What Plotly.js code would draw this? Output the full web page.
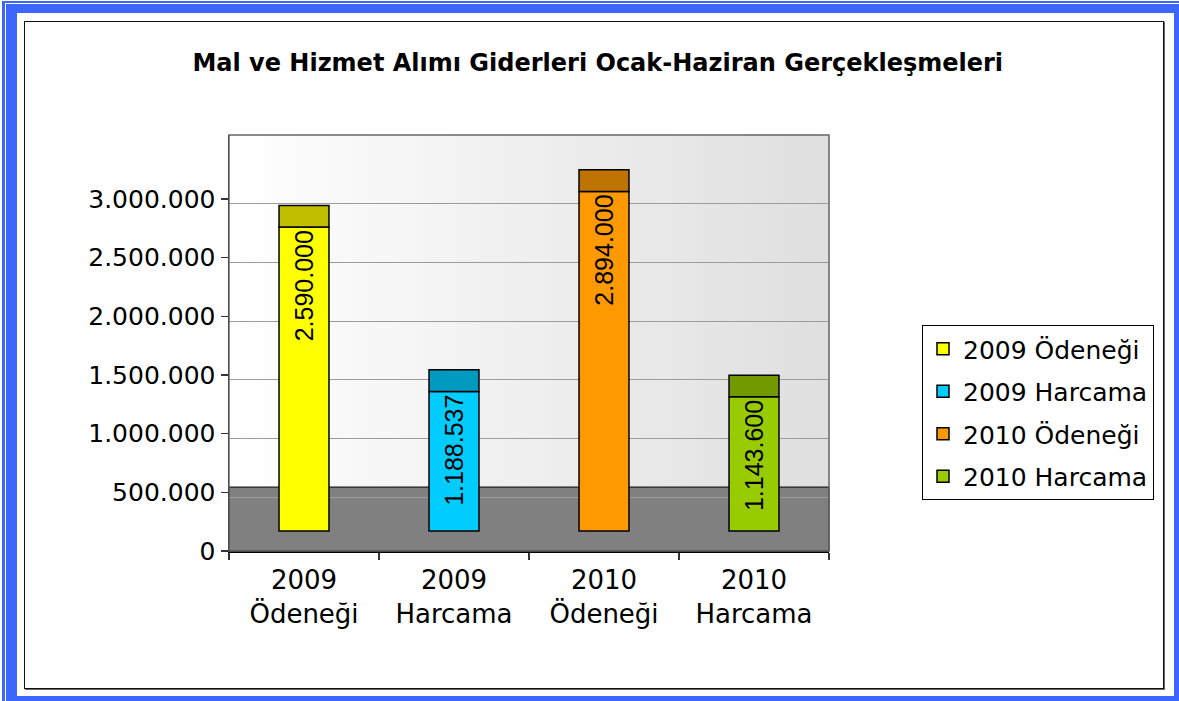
<!DOCTYPE html>
<html>
<head>
<meta charset="utf-8">
<script src="https://cdn.plot.ly/plotly-3.0.1.min.js"></script>
<style>
  html, body { margin:0; padding:0; width:1179px; height:701px; overflow:hidden; background:#fff; }
  .abs { position:absolute; box-sizing:border-box; }
</style>
</head>
<body>
<div class="abs" style="left:2px;top:1px;width:1177px;height:700px;background:#3d66ff;"></div>
<div class="abs" style="left:5px;top:3px;width:1200px;height:720px;border:1.5px solid #fff;"></div>
<div class="abs" style="left:17px;top:13px;width:1157px;height:683px;background:#fff;"></div>
<div class="abs" style="left:24px;top:21px;width:1140px;height:668px;border:1.5px solid #111;box-shadow:1px 1px 0 #666;"></div>
<div id="chart" class="abs" style="left:0;top:0;width:1179px;height:701px;"></div>
<script>
// ---- data ----
const categories = ["2009<br>Ödeneği", "2009<br>Harcama", "2010<br>Ödeneği", "2010<br>Harcama"];
const seriesNames = ["2009 Ödeneği", "2009 Harcama", "2010 Ödeneği", "2010 Harcama"];
const values = [2590000, 1188537, 2894000, 1143600];
const yTickVals = [0, 500000, 1000000, 1500000, 2000000, 2500000, 3000000];
const frontColors = ["#ffff00", "#00ccff", "#ff9900", "#99cc00"];
const topColors = ["#bfbf00", "#0099bf", "#bf7300", "#739900"];

// 3D-look styling constants (in axis units)
const BASE_OFFSET = 170000;   // front face starts above the floor
const TOP_DEPTH = 185000;     // height of visible top face

const FONT = "DejaVu Sans, Liberation Sans, Arial, sans-serif";
const LABEL_FONT = "Liberation Sans, Arial, sans-serif";

const traces = [];
for (let i = 0; i < values.length; i++) {
  traces.push({
    type: "bar",
    name: seriesNames[i],
    legendgroup: "g" + i,
    x: [categories[i]],
    y: [values[i]],
    base: [BASE_OFFSET],
    width: 0.333,
    marker: { color: frontColors[i], line: { color: "#000", width: 1.5 } },
    texttemplate: "%{y:,.0f}",
    textposition: "inside",
    insidetextanchor: "end",
    textangle: -90,
    insidetextfont: { family: LABEL_FONT, size: 25, color: "#000" },
    hoverinfo: "skip"
  });
}
for (let i = 0; i < values.length; i++) {
  traces.push({
    type: "bar",
    showlegend: false,
    x: [categories[i]],
    y: [TOP_DEPTH],
    base: [values[i] + BASE_OFFSET],
    width: 0.333,
    marker: { color: topColors[i], line: { color: "#000", width: 1.5 } },
    hoverinfo: "skip"
  });
}
// dummy trace to create back-wall grid axis
traces.push({ type: "scatter", x: [categories[0]], y: [null], yaxis: "y2", showlegend: false, hoverinfo: "skip" });

const layout = {
  width: 1179, height: 701,
  margin: { l: 229, r: 350, t: 135, b: 150, pad: 0 },
  paper_bgcolor: "rgba(0,0,0,0)",
  plot_bgcolor: "#ffffff",
  separators: ",.",
  barmode: "overlay",
  font: { family: FONT, color: "#000" },
  title: {
    text: "<b>Mal ve Hizmet Alımı Giderleri Ocak-Haziran Gerçekleşmeleri</b>",
    font: { family: FONT, size: 24, color: "#000" },
    x: 0.507, xanchor: "center", y: 0.911, yanchor: "middle"
  },
  xaxis: {
    type: "category", range: [-0.5, 3.5],
    tickson: "boundaries", ticks: "outside", ticklen: 7, tickwidth: 1.5, tickcolor: "#333",
    showline: true, linecolor: "#000", linewidth: 1.5,
    ticklabelstandoff: 5,
    showgrid: false, tickfont: { family: FONT, size: 26, color: "#000" }
  },
  yaxis: {
    range: [0, 3545000], tickvals: yTickVals, tickformat: ",d",
    ticks: "outside", ticklen: 7, tickwidth: 1.5, tickcolor: "#333",
    showline: true, linecolor: "#000", linewidth: 1.5,
    showgrid: false, zeroline: false,
    tickfont: { family: FONT, size: 25, color: "#000" }
  },
  yaxis2: {
    overlaying: "y", anchor: "x", range: [42600, 3587600], tickvals: yTickVals,
    showgrid: true, gridcolor: "#9c9c9c", gridwidth: 1,
    showticklabels: false, ticks: "", showline: false, zeroline: false
  },
  legend: {
    x: 1.155, xanchor: "left", y: 0.543, yanchor: "top",
    bordercolor: "#000", borderwidth: 1, bgcolor: "#fff",
    font: { family: FONT, size: 25, color: "#000" },
    traceorder: "grouped", tracegroupgap: 7
  },
  images: [{
    source: "data:image/svg+xml;utf8," + encodeURIComponent(
      '<svg xmlns="http://www.w3.org/2000/svg" width="100" height="100" preserveAspectRatio="none"><defs><linearGradient id="g" x1="0" y1="0" x2="1" y2="0"><stop offset="0" stop-color="#ffffff"/><stop offset="1" stop-color="#dfdfdf"/></linearGradient></defs><rect width="100" height="100" fill="url(#g)"/></svg>'),
    xref: "paper", yref: "paper", x: 0, y: 1, sizex: 1, sizey: 1,
    sizing: "stretch", xanchor: "left", yanchor: "top", layer: "below"
  }],
  shapes: [
    { type: "rect", xref: "paper", yref: "y", x0: 0, x1: 1, y0: 0, y1: 545000,
      fillcolor: "#808080", line: { color: "#000", width: 1 }, layer: "between" },
    { type: "rect", xref: "paper", yref: "paper", x0: 0, x1: 1, y0: 0, y1: 1,
      fillcolor: "rgba(0,0,0,0)", line: { color: "#666", width: 1.5 }, layer: "above" }
  ]
};

Plotly.newPlot("chart", traces, layout, { displayModeBar: false, staticPlot: true });
</script>
</body>
</html>
